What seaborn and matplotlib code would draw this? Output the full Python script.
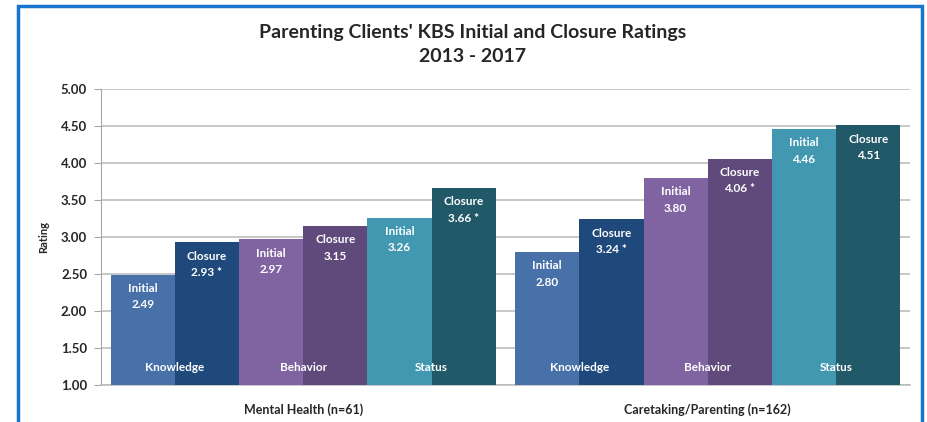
import numpy as np
import pandas as pd
import seaborn as sns
import matplotlib.pyplot as plt
import matplotlib.patches as patches

# data
groups = ["Mental Health (n=61)", "Caretaking/Parenting (n=162)"]
domains = ["Knowledge", "Behavior", "Status"]
phases = ["Initial", "Closure"]
mh_values = [2.49, 2.93, 2.97, 3.15, 3.26, 3.66]
cp_values = [2.80, 3.24, 3.80, 4.06, 4.46, 4.51]
mh_signif = [False, True, False, False, False, True]
cp_signif = [False, True, False, True, False, False]
y_ticks = [1.0, 1.5, 2.0, 2.5, 3.0, 3.5, 4.0, 4.5, 5.0]

colors = ["#4771a8", "#1f487b", "#8064a2", "#604a7b", "#4298b1", "#215968"]

series = [d + " " + p for d in domains for p in phases]
rows = []
for g, vals, sig in [(groups[0], mh_values, mh_signif), (groups[1], cp_values, cp_signif)]:
    for s, v, f in zip(series, vals, sig):
        rows.append({"group": g, "series": s, "rating": v, "sig": f})
df = pd.DataFrame(rows)

sns.set_style("white")
plt.rcParams['font.family'] = ['Lato', 'DejaVu Sans']

W, H = 928, 422
fig = plt.figure(figsize=(W / 100, H / 100), dpi=100)
ax = fig.add_axes([101 / W, 1 - 385 / H, (910 - 101) / W, (385 - 89) / H])

sns.barplot(data=df, x="group", y="rating", hue="series", hue_order=series,
            palette=colors, width=0.952, gap=0, saturation=1, ax=ax,
            legend=False, errorbar=None, zorder=3, linewidth=0)

ax.set_ylim(1, 5)
ax.set_xlim(-0.5, 1.5)
ax.set_yticks(y_ticks)
ax.set_yticklabels([f"{t:.2f}" for t in y_ticks], fontsize=9.5, fontweight="bold")
ax.yaxis.grid(True, color="#bdbdbd", lw=1.2, zorder=0)
ax.set_axisbelow(True)
for sp in ["top", "right"]:
    ax.spines[sp].set_visible(False)
ax.spines["left"].set_color("#a6a6a6")
ax.spines["bottom"].set_color("#bdbdbd")
ax.spines["bottom"].set_linewidth(1.2)
ax.tick_params(axis="y", length=5, color="#a6a6a6", direction="out", left=True, pad=5)
ax.tick_params(axis="x", length=0, pad=13)
for lbl in ax.get_xticklabels():
    lbl.set_fontweight("bold")
    lbl.set_fontsize(9)
ax.set_xlabel("")
ax.set_ylabel("Rating", fontsize=8, fontweight="bold", labelpad=8)

# value labels inside bars
for i, cont in enumerate(ax.containers):
    phase = phases[i % 2]
    for j, bar in enumerate(cont):
        val = bar.get_height()
        sig = df[(df["group"] == groups[j]) & (df["series"] == series[i])]["sig"].iloc[0]
        txt = f"{phase}\n{val:.2f}" + (" *" if sig else "")
        ax.annotate(txt, (bar.get_x() + bar.get_width() / 2, val),
                    xytext=(0, -6), textcoords="offset points",
                    ha="center", va="top", color="white", fontsize=8.5,
                    fontweight="bold", linespacing=1.6, zorder=5)

# domain names across each pair of bars
for k, d in enumerate(domains):
    for j in range(len(groups)):
        b1 = ax.containers[2 * k][j]
        xc = b1.get_x() + b1.get_width()
        ax.text(xc, 1.23, d, ha="center", va="center", color="white",
                fontsize=8.5, fontweight="bold", zorder=5)

fig.text(473 / W, 1 - 44.5 / H, "Parenting Clients' KBS Initial and Closure Ratings\n2013 - 2017",
         ha="center", va="center", fontsize=14, fontweight="bold", linespacing=1.45)

border = patches.Rectangle((18 / W, -0.05), (922 - 18) / W, 1.05 - 6 / H,
                           transform=fig.transFigure, fill=False,
                           edgecolor="#1874cd", lw=2.5)
fig.patches.append(border)

fig.savefig("out.png", dpi=100)
